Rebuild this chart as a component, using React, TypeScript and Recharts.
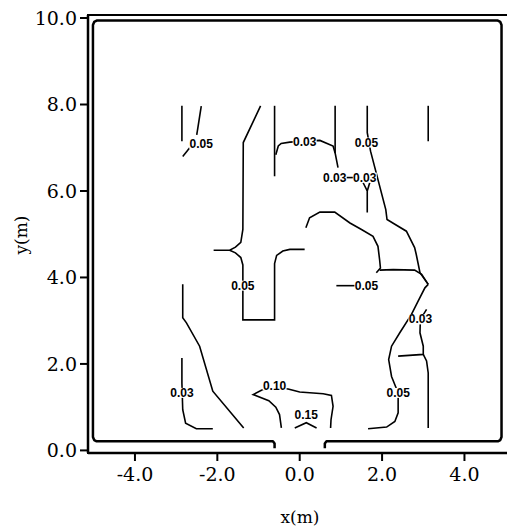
import React from 'react';
import { ComposedChart, Line, Scatter, XAxis, YAxis, ReferenceArea } from 'recharts';

// ---- data (metres) ----
const xTicks = [-4, -2, 0, 2, 4];
const yTicks = [0, 2, 4, 6, 8, 10];
const xDomain = [-5.14, 5.3];
const yDomain = [-0.06, 10.07];

// room walls with door opening at the bottom
const wall = [[-0.61, 0.05], [-0.61, 0.16], [-0.65, 0.21], [-4.93, 0.21], [-4.99, 0.24], [-5.02, 0.31], [-5.02, 9.84], [-4.99, 9.91], [-4.93, 9.94], [4.81, 9.94], [4.87, 9.91], [4.9, 9.84], [4.9, 0.31], [4.87, 0.24], [4.81, 0.21], [0.65, 0.21], [0.61, 0.16], [0.61, 0.05]];

// contour segments
const c1 = [[-2.86, 7.97], [-2.86, 7.15]];
const c2 = [[-2.39, 7.96], [-2.5, 7.3]];
const c2b = [[-2.67, 7.0], [-2.84, 6.8]];
const c3 = [[-0.95, 7.97], [-1.37, 7.12], [-1.38, 5.11], [-1.43, 4.81], [-1.56, 4.7], [-1.7, 4.63], [-2.09, 4.63]];
const c3b = [[-1.7, 4.63], [-1.56, 4.57], [-1.43, 4.46], [-1.38, 4.29], [-1.38, 3.02], [-0.61, 3.02], [-0.61, 4.32], [-0.56, 4.51], [-0.41, 4.61], [-0.24, 4.65], [0.12, 4.65]];
const c4 = [[-0.61, 7.97], [-0.61, 6.34]];
const c5 = [[-0.58, 6.84], [-0.52, 7.04], [-0.45, 7.1], [-0.24, 7.13], [0.49, 7.17], [0.81, 7.04], [0.86, 6.88]];
const c6 = [[0.86, 7.97], [0.86, 6.88], [0.93, 6.54]];
const c6dash = [[1.1, 6.31], [1.33, 6.31]];
const c7a = [[1.54, 6.19], [1.64, 6.0], [1.64, 5.5]];
const c7b = [[1.7, 6.19], [1.64, 6.0]];
const c8 = [[1.64, 7.97], [1.64, 7.35], [1.72, 6.92], [2.09, 5.57], [2.12, 5.34], [2.31, 5.23], [2.59, 5.07], [2.79, 4.69], [2.83, 4.53], [2.92, 4.11], [3.12, 3.84]];
const c9 = [[3.12, 7.97], [3.12, 7.15]];
const c10 = [[0.15, 5.15], [0.24, 5.38], [0.49, 5.51], [0.85, 5.51], [1.22, 5.26], [1.5, 5.11], [1.78, 4.95], [1.9, 4.72], [1.94, 4.41], [1.96, 4.22], [1.86, 4.11]];
const c10b = [[1.94, 4.17], [2.27, 4.18], [2.79, 4.17], [2.96, 4.07], [3.12, 3.84]];
const c11 = [[0.89, 3.81], [1.34, 3.81]];
const c12 = [[3.12, 3.84], [3.04, 3.76], [2.875, 3.45], [2.71, 3.14], [2.43, 2.72], [2.23, 2.41], [2.16, 2.1], [2.23, 1.71], [2.31, 1.52], [2.39, 1.33], [2.39, 0.87], [2.31, 0.67], [2.11, 0.54], [1.66, 0.5]];
const c13 = [[3.08, 3.26], [2.93, 3.03], [2.92, 2.72], [3.0, 2.41], [3.0, 2.22], [2.39, 2.18]];
const c13b = [[3.0, 2.22], [3.08, 2.07], [3.12, 1.79], [3.12, 0.52]];
const c14 = [[-2.84, 3.84], [-2.84, 3.07], [-2.75, 2.95], [-2.43, 2.41], [-2.11, 1.37], [-1.36, 0.52]];
const c15 = [[-2.86, 2.14], [-2.86, 1.56], [-2.84, 0.94], [-2.77, 0.63], [-2.51, 0.5], [-2.11, 0.5]];
const c16 = [[-0.445, 0.52], [-0.49, 0.83], [-0.58, 1.0], [-0.75, 1.15], [-1.13, 1.29], [-0.93, 1.39], [-0.75, 1.45], [-0.28, 1.42], [0, 1.35], [0.57, 1.31], [0.77, 1.27], [0.81, 1.02], [0.76, 0.71], [0.75, 0.52]];
const c17 = [[-0.12, 0.52], [0.16, 0.64], [0.41, 0.52]];

const contours = [c1, c2, c2b, c3, c3b, c4, c5, c6, c6dash, c7a, c7b, c8, c9, c10, c10b, c11, c12, c13, c13b, c14, c15, c16, c17];

// contour value labels
const labelX = [-2.39, -1.38, 0.12, 0.85, 1.58, 1.62, 1.62, 2.93, 2.39, -2.86, -0.61, 0.16];
const labelY = [7.09, 3.81, 7.13, 6.31, 6.31, 7.12, 3.8, 3.03, 1.33, 1.33, 1.5, 0.83];
const labelText = ['0.05', '0.05', '0.03', '0.03', '0.03', '0.05', '0.05', '0.03', '0.05', '0.03', '0.10', '0.15'];

const toPts = (a: number[][]) => a.map(([x, y]) => ({ x, y }));
const labels = labelX.map((x, i) => ({ x, y: labelY[i], t: labelText[i] }));

const serif = 'DejaVu Serif';

const LabelShape = (props: any) => {
  const { cx, cy, payload } = props;
  return (
    <g>
      <rect x={cx - 12} y={cy - 5} width={24} height={10} fill="#fff" />
      <text x={cx} y={cy} textAnchor="middle" dominantBaseline="central" fontFamily="Liberation Sans" fontWeight="bold" fontSize={12} fill="#000">
        {payload.t}
      </text>
    </g>
  );
};

const yTitle = () => (
  <text x={21} y={235} transform="rotate(-90 21 235)" textAnchor="middle" dominantBaseline="central" fontFamily={serif} fontSize={17} fill="#000">
    y(m)
  </text>
);
const xTitle = () => (
  <text x={300} y={517} textAnchor="middle" dominantBaseline="central" fontFamily={serif} fontSize={17} fill="#000">
    x(m)
  </text>
);

export default function App() {
  return (
    <div style={{ position: 'fixed', left: 0, top: 0, width: 507, height: 526, overflow: 'hidden', background: '#fff' }}>
      <ComposedChart width={530} height={526} margin={{ top: 15, left: 0, right: 12, bottom: 0 }}>
        <XAxis
          type="number"
          dataKey="x"
          domain={xDomain}
          allowDataOverflow
          ticks={xTicks}
          interval={0}
          tickFormatter={(v: number) => v.toFixed(1)}
          height={73}
          tickSize={8}
          tickMargin={7}
          axisLine={{ stroke: '#000', strokeWidth: 2.5 }}
          tickLine={{ stroke: '#000', strokeWidth: 2 }}
          tick={{ fill: '#000', fontSize: 19, fontFamily: serif }}
          label={xTitle}
        />
        <YAxis
          type="number"
          dataKey="y"
          domain={yDomain}
          allowDataOverflow
          ticks={yTicks}
          interval={0}
          tickFormatter={(v: number) => v.toFixed(1)}
          width={88}
          tickSize={8}
          tickMargin={3}
          axisLine={{ stroke: '#000', strokeWidth: 2.5 }}
          tickLine={{ stroke: '#000', strokeWidth: 2 }}
          tick={{ fill: '#000', fontSize: 19, fontFamily: serif }}
          label={yTitle}
        />
        <ReferenceArea x1={xDomain[0]} x2={xDomain[1]} y1={yDomain[0]} y2={yDomain[1]} fill="none" fillOpacity={0} stroke="#000" strokeWidth={2} />
        <Line data={toPts(wall)} dataKey="y" type="linear" stroke="#000" strokeWidth={2.5} dot={false} activeDot={false} isAnimationActive={false} strokeLinejoin="round" />
        {contours.map((c, i) => (
          <Line key={i} data={toPts(c)} dataKey="y" type="linear" stroke="#000" strokeWidth={1.6} dot={false} activeDot={false} isAnimationActive={false} />
        ))}
        <Scatter data={labels} dataKey="y" shape={LabelShape} isAnimationActive={false} />
      </ComposedChart>
    </div>
  );
}
